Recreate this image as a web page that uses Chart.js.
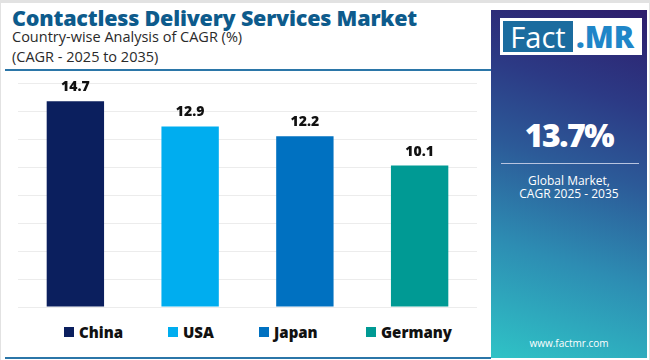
<!DOCTYPE html>
<html>
<head>
<meta charset="utf-8">
<script src="https://cdn.jsdelivr.net/npm/chart.js@4.4.1/dist/chart.umd.min.js"></script>
<style>
  html, body { margin: 0; padding: 0; }
  body { width: 650px; height: 360px; position: relative; overflow: hidden; background: #fff; font-family: "Open Sans", sans-serif; }
  .frame { position: absolute; left: 0; top: 0; width: 648px; height: 358px; border: 1px solid #e2e2e2; border-top-width: 3px; }
  .title { position: absolute; left: 12px; top: 3px; font-size: 21.5px; font-weight: 800; color: #0d5b8c; white-space: nowrap; letter-spacing: -0.2px; }
  .sub { position: absolute; left: 12px; font-size: 14.5px; color: #2a2a2a; white-space: nowrap; }
  .hline { position: absolute; left: 5px; width: 486px; height: 2px; background: #2b76a8; }
  #wrap { position: absolute; left: 0; top: 72px; width: 490px; height: 240px; }
  #legend { position: absolute; top: 322px; left: 0; width: 490px; height: 20px; }
  .li { position: absolute; top: 0; display: flex; align-items: center; font-weight: 800; font-size: 15px; color: #111; }
  .li i { display: inline-block; width: 10px; height: 10px; margin-right: 5px; }
  .panel { position: absolute; left: 491px; top: 10px; width: 156px; height: 348px;
    background: linear-gradient(18deg, #2fc3c6 0%, #2d8db3 30%, #2c5a98 55%, #2c3a85 75%, #2d1d6c 100%); }
  .logo { position: absolute; left: 9px; top: 8px; width: 142px; height: 37px; background: #fff; }
  .logo .f { position: absolute; left: 3px; top: 3px; width: 70px; height: 31px; background: #1b6c9f; color: #fff; font-size: 29px; line-height: 31px; text-align: center; font-family: "Open Sans", sans-serif; }
  .logo .m { position: absolute; left: 76px; top: 1px; color: #1f86c8; font-size: 30px; font-weight: 800; line-height: 35px; font-family: "Open Sans", sans-serif; }
  .big { position: absolute; left: 0; width: 156px; top: 103px; text-align: center; color: #fff; font-size: 32px; font-weight: 800; letter-spacing: -1.5px; }
  .sep { position: absolute; left: 10px; width: 138px; top: 153px; height: 1px; background: #b8c4e0; }
  .small { position: absolute; left: 0; width: 156px; text-align: center; color: #fff; font-size: 12px; }
</style>
</head>
<body>
<div class="frame"></div>
<div class="title">Contactless Delivery Services Market</div>
<div class="sub" style="top:27px">Country-wise Analysis of CAGR (%)</div>
<div class="sub" style="top:47px">(CAGR - 2025 to 2035)</div>
<div class="hline" style="top:69px"></div>
<div id="wrap"><canvas id="chart"></canvas></div>
<div id="legend"></div>
<div class="hline" style="top:357px"></div>
<div class="panel">
  <div class="logo"><div class="f">Fact</div><div class="m">.MR</div></div>
  <div class="big">13.7%</div>
  <div class="sep"></div>
  <div class="small" style="top:162px">Global Market,</div>
  <div class="small" style="top:175px">CAGR 2025 - 2035</div>
  <div class="small" style="top:326px; font-size:10px">www.factmr.com</div>
</div>
<script>
const countries = ['China', 'USA', 'Japan', 'Germany'];
const cagrValues = [14.7, 12.9, 12.2, 10.1];
const barColors = ['#0b1f5e', '#00adef', '#0071c1', '#009a94'];
const legendLeft = [64, 168, 259, 366];

// Etiquetas de valor acima das barras
const valueLabels = {
    id: 'valueLabels',
    afterDatasetsDraw(chart) {
        const ctx = chart.ctx;
        const meta = chart.getDatasetMeta(0);
        ctx.save();
        ctx.font = '800 14px "Open Sans", sans-serif';
        ctx.fillStyle = '#111';
        ctx.textAlign = 'center';
        ctx.textBaseline = 'bottom';
        meta.data.forEach((bar, i) => {
            ctx.fillText(cagrValues[i].toFixed(1), bar.x, bar.y - 7);
        });
        ctx.restore();
    }
};

new Chart(document.getElementById('chart'), {
    type: 'bar',
    data: {
        labels: countries,
        datasets: [{
            data: cagrValues,
            backgroundColor: barColors,
            categoryPercentage: 1,
            barPercentage: 0.5
        }]
    },
    options: {
        responsive: true,
        maintainAspectRatio: false,
        animation: false,
        layout: { padding: { left: 18, right: 13, top: 11, bottom: 5 } },
        plugins: { legend: { display: false }, tooltip: { enabled: false } },
        scales: {
            x: { display: false },
            y: {
                min: 0, max: 16,
                ticks: { display: false, stepSize: 2 },
                border: { display: false },
                grid: { color: '#ececec', drawTicks: false }
            }
        }
    },
    plugins: [valueLabels]
});

// Legenda em HTML
const legend = document.getElementById('legend');
countries.forEach((c, i) => {
    const el = document.createElement('div');
    el.className = 'li';
    el.style.left = legendLeft[i] + 'px';
    el.innerHTML = `<i style="background:${barColors[i]}"></i>${c}`;
    legend.appendChild(el);
});
</script>
</body>
</html>
